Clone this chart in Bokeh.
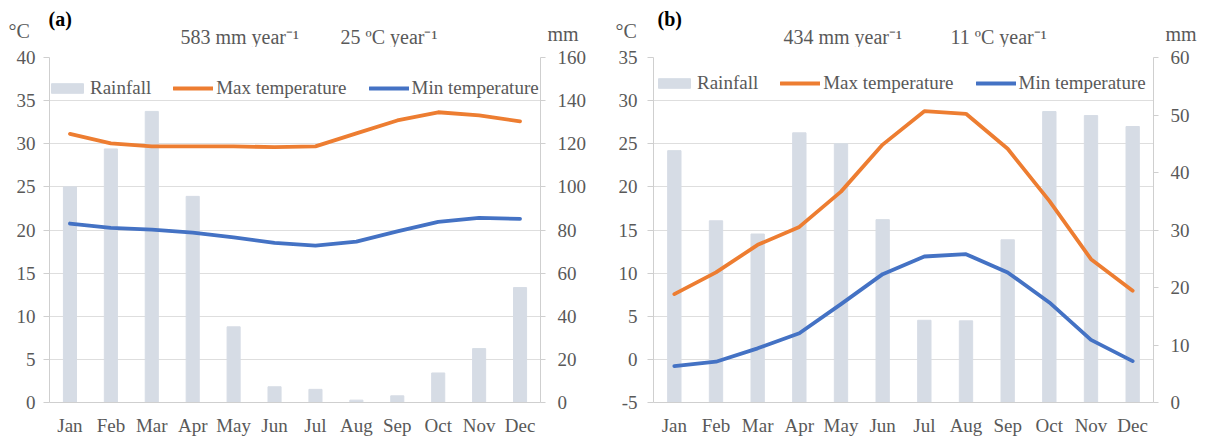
from bokeh.plotting import figure
from bokeh.models import Range1d, LinearAxis, FixedTicker, Label, Legend, LegendItem, FactorRange
from bokeh.layouts import row, column
from bokeh.embed import file_html
from bokeh.resources import INLINE

months = ["Jan", "Feb", "Mar", "Apr", "May", "Jun", "Jul", "Aug", "Sep", "Oct", "Nov", "Dec"]

# Panel (a)
rain_a = [100.0, 117.6, 135.0, 95.6, 35.1, 7.3, 6.1, 1.1, 3.1, 13.7, 25.0, 53.3]
tmax_a = [31.15, 30.05, 29.7, 29.7, 29.7, 29.6, 29.7, 31.2, 32.7, 33.65, 33.3, 32.6]
tmin_a = [20.75, 20.25, 20.05, 19.7, 19.15, 18.5, 18.2, 18.65, 19.85, 20.95, 21.4, 21.3]
temp_ticks_a = [0, 5, 10, 15, 20, 25, 30, 35, 40]
mm_ticks_a = [0, 20, 40, 60, 80, 100, 120, 140, 160]
annual_a = ["583 mm year\u207b\u00b9", "25 \u00baC year\u207b\u00b9"]

# Panel (b)
rain_b = [43.8, 31.6, 29.3, 46.9, 45.0, 31.8, 14.3, 14.2, 28.3, 50.6, 49.9, 48.0]
tmax_b = [7.57, 10.08, 13.28, 15.36, 19.45, 24.9, 28.78, 28.47, 24.42, 18.37, 11.62, 7.96]
tmin_b = [-0.78, -0.27, 1.28, 3.03, 6.4, 9.88, 11.93, 12.2, 10.08, 6.6, 2.26, -0.2]
temp_ticks_b = [-5, 0, 5, 10, 15, 20, 25, 30, 35]
mm_ticks_b = [0, 10, 20, 30, 40, 50, 60]
annual_b = ["434 mm year\u207b\u00b9", "11 \u00baC year\u207b\u00b9"]

FONT = "Liberation Serif, Times New Roman, serif"
TXT = "#595959"
AXIS = "#CFCFCF"
GRID = "#DEDEDE"
BAR = "#D6DCE5"
ORANGE = "#ED7D31"
BLUE = "#4472C4"
FS = "19px"

W = 603
HEAD = 47


def no_align(fig):
    try:
        fig.frame_align = False
    except Exception:
        pass


def header(tag, annual, pos_deg, pos_tag, pos_t1, pos_t2, pos_mm):
    h = figure(width=W, height=HEAD, x_range=Range1d(0, W), y_range=Range1d(0, HEAD),
               x_axis_type=None, y_axis_type=None, output_backend="svg", toolbar_location=None,
               min_border_left=0, min_border_right=0, min_border_top=0, min_border_bottom=0)
    h.outline_line_color = None
    h.grid.visible = False
    no_align(h)

    def lab(pos, text, style="normal", color=TXT, size="20px"):
        h.add_layout(Label(x=pos[0], y=HEAD - pos[1], x_units="screen", y_units="screen",
                           text=text, text_font=FONT, text_font_size=size,
                           text_font_style=style, text_color=color,
                           text_baseline="middle", text_align="left"))

    lab(pos_deg, "\u00b0C")
    lab(pos_tag, tag, style="bold", color="#000000")
    lab(pos_t1, annual[0])
    lab(pos_t2, annual[1])
    lab(pos_mm, "mm")
    return h


def style_axis(ax, tick_out, standoff):
    ax.axis_line_color = AXIS
    ax.major_tick_line_color = AXIS if tick_out else None
    ax.major_tick_out = tick_out
    ax.major_tick_in = 0
    ax.minor_tick_line_color = None
    ax.major_label_standoff = standoff
    ax.major_label_text_font = FONT
    ax.major_label_text_font_size = FS
    ax.major_label_text_color = TXT


def panel(rain, tmax, tmin, tticks, mticks, bl, br, leg_loc, left_standoff):
    p = figure(width=W, height=438 - HEAD, x_range=FactorRange(*months),
               y_range=Range1d(tticks[0], tticks[-1]),
               output_backend="svg", toolbar_location=None,
               min_border_left=bl, min_border_right=br,
               min_border_top=57 - HEAD, min_border_bottom=36)
    no_align(p)
    p.extra_y_ranges = {"mm": Range1d(mticks[0], mticks[-1])}
    p.outline_line_color = None

    bars = p.vbar(x=months, top=rain, bottom=0, width=0.32, color=BAR, y_range_name="mm")
    lmax = p.line(months, tmax, line_color=ORANGE, line_width=3.8, line_cap="round", line_join="round")
    lmin = p.line(months, tmin, line_color=BLUE, line_width=3.8, line_cap="round", line_join="round")

    ya = p.yaxis[0]
    ya.ticker = FixedTicker(ticks=tticks)
    ya.major_label_overrides = {t: str(t) for t in tticks}
    style_axis(ya, 6, left_standoff)

    xa = p.xaxis[0]
    style_axis(xa, 0, 12)

    ra = LinearAxis(y_range_name="mm", ticker=FixedTicker(ticks=mticks))
    style_axis(ra, 5, 12)
    p.add_layout(ra, "right")

    p.xgrid.visible = False
    p.ygrid.ticker = FixedTicker(ticks=tticks)
    p.ygrid.grid_line_color = GRID
    p.ygrid.grid_line_width = 1

    legend = Legend(items=[LegendItem(label="Rainfall", renderers=[bars]),
                           LegendItem(label="Max temperature", renderers=[lmax]),
                           LegendItem(label="Min temperature", renderers=[lmin])],
                    orientation="horizontal", location=leg_loc,
                    label_text_font=FONT, label_text_font_size=FS, label_text_color=TXT,
                    glyph_width=40, glyph_height=12, label_standoff=3, spacing=22,
                    padding=0, margin=0, label_height=20,
                    border_line_color=None, background_fill_alpha=0)
    p.add_layout(legend)
    return p


ha = header("(a)", annual_a, pos_deg=(8, 30), pos_tag=(48, 18), pos_t1=(180, 36.5),
            pos_t2=(340, 36.5), pos_mm=(547, 33))
pa = panel(rain_a, tmax_a, tmin_a, temp_ticks_a, mm_ticks_a, bl=49, br=63, leg_loc=(-2, 303),
           left_standoff=8)

hb = header("(b)", annual_b, pos_deg=(12, 30), pos_tag=(54, 18), pos_t1=(180, 36.5),
            pos_t2=(347, 36.5), pos_mm=(562, 33))
pb = panel(rain_b, tmax_b, tmin_b, temp_ticks_b, mm_ticks_b, bl=50, br=53, leg_loc=(1, 308),
           left_standoff=10)

layout = row(column(ha, pa, spacing=0), column(hb, pb, spacing=0), spacing=0)
open("out.html", "w").write(file_html(layout, INLINE))
